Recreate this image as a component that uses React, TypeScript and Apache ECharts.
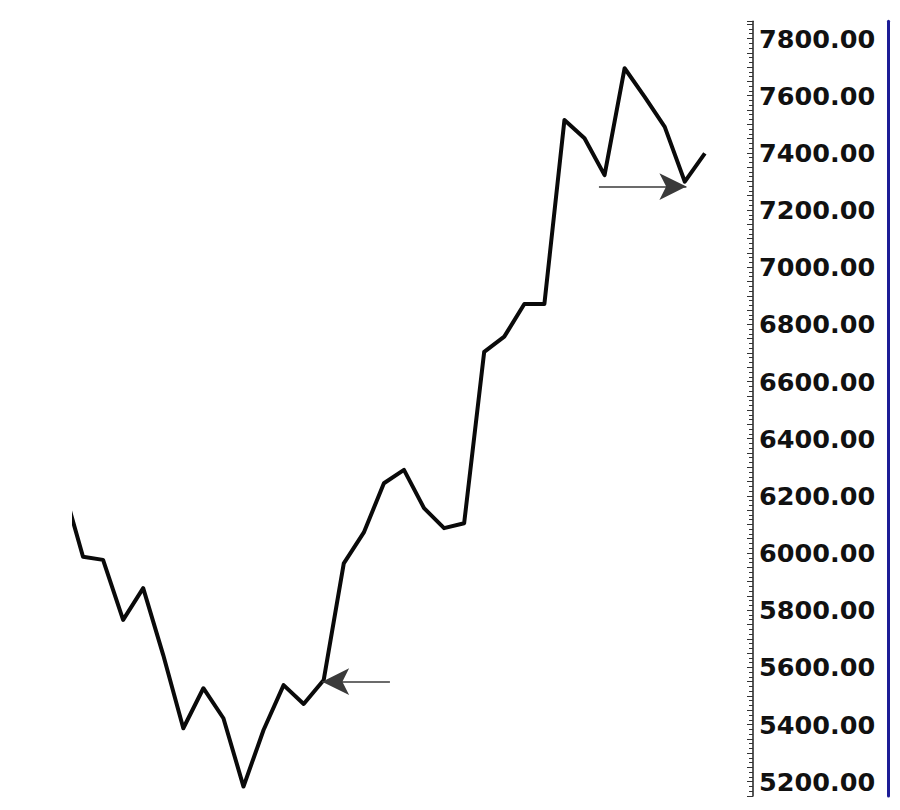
import React, { useEffect, useRef } from "react";
import * as echarts from "echarts";

// Closing values, one per period (first one is only partly visible at the left edge)
const closes: number[] = [
  6235, 5987, 5976, 5766, 5877, 5643, 5387, 5527, 5422, 5183, 5381, 5538, 5472,
  5556, 5964, 6072, 6244, 6291, 6157, 6087, 6104, 6704, 6757, 6871, 6871, 7515,
  7451, 7322, 7696, 7596, 7491, 7299, 7398,
];

// Labelled ticks of the price axis
const yTickLabels: number[] = [
  5200, 5400, 5600, 5800, 6000, 6200, 6400, 6600, 6800, 7000, 7200, 7400, 7600, 7800,
];

// Arrow annotations: [fromIndex, toIndex, price]
const arrowFrom: number[][] = [
  [16.3, 12.92, 5550],
  [26.72, 31.08, 7282],
];

const Y_MIN = 5150;
const Y_MAX = 7860;
const X_MIN = 0.551;
const X_MAX = 34.4;

export default function App() {
  const ref = useRef<HTMLDivElement>(null);

  useEffect(() => {
    if (!ref.current) return;
    const chart = echarts.init(ref.current, null, { renderer: "svg" });
    const lineData = closes.map((v, i) => [i, v]);
    const arrows = arrowFrom.map(([a, b, p]) => [
      { coord: [a, p], symbol: "none" },
      { coord: [b, p], symbol: "arrow" },
    ]);
    chart.setOption({
      animation: false,
      backgroundColor: "#ffffff",
      grid: { left: 74, right: 147, top: 21.35, bottom: 14, containLabel: false },
      xAxis: {
        type: "value",
        min: X_MIN,
        max: X_MAX,
        show: false,
      },
      yAxis: [
        {
          type: "value",
          position: "right",
          min: Y_MIN,
          max: Y_MAX,
          interval: 50,
          splitLine: { show: false },
          axisLine: { show: true, lineStyle: { color: "#222", width: 1.5 } },
          axisTick: { show: true, inside: true, length: 6, lineStyle: { color: "#333", width: 1 } },
          minorTick: { show: true, splitNumber: 3, length: 4, lineStyle: { color: "#333", width: 1 } },
          axisLabel: {
            interval: 0,
            margin: 6,
            color: "#111",
            fontFamily: "DejaVu Sans",
            fontWeight: "bold",
            fontSize: 25.5,
            formatter: (v: number) => (yTickLabels.includes(v) ? v.toFixed(2) : ""),
          },
        },
        {
          type: "value",
          position: "right",
          offset: 135,
          min: Y_MIN,
          max: Y_MAX,
          splitLine: { show: false },
          axisLine: { show: true, lineStyle: { color: "#1c1c96", width: 3 } },
          axisTick: { show: false },
          axisLabel: { show: false },
        },
      ],
      series: [
        {
          type: "line",
          data: lineData,
          yAxisIndex: 0,
          symbol: "none",
          clip: true,
          silent: true,
          lineStyle: { color: "#0a0a0a", width: 4, join: "round" },
          markLine: {
            silent: true,
            symbol: ["none", "arrow"],
            symbolSize: [20, 27],
            label: { show: false },
            lineStyle: { color: "#3a3a3a", width: 1.5, type: "solid" },
            emphasis: { disabled: true },
            data: arrows,
          },
        },
      ],
    });
    return () => chart.dispose();
  }, []);

  return (
    <div
      ref={ref}
      style={{ position: "fixed", left: 0, top: 0, width: 900, height: 810, background: "#fff" }}
    />
  );
}
